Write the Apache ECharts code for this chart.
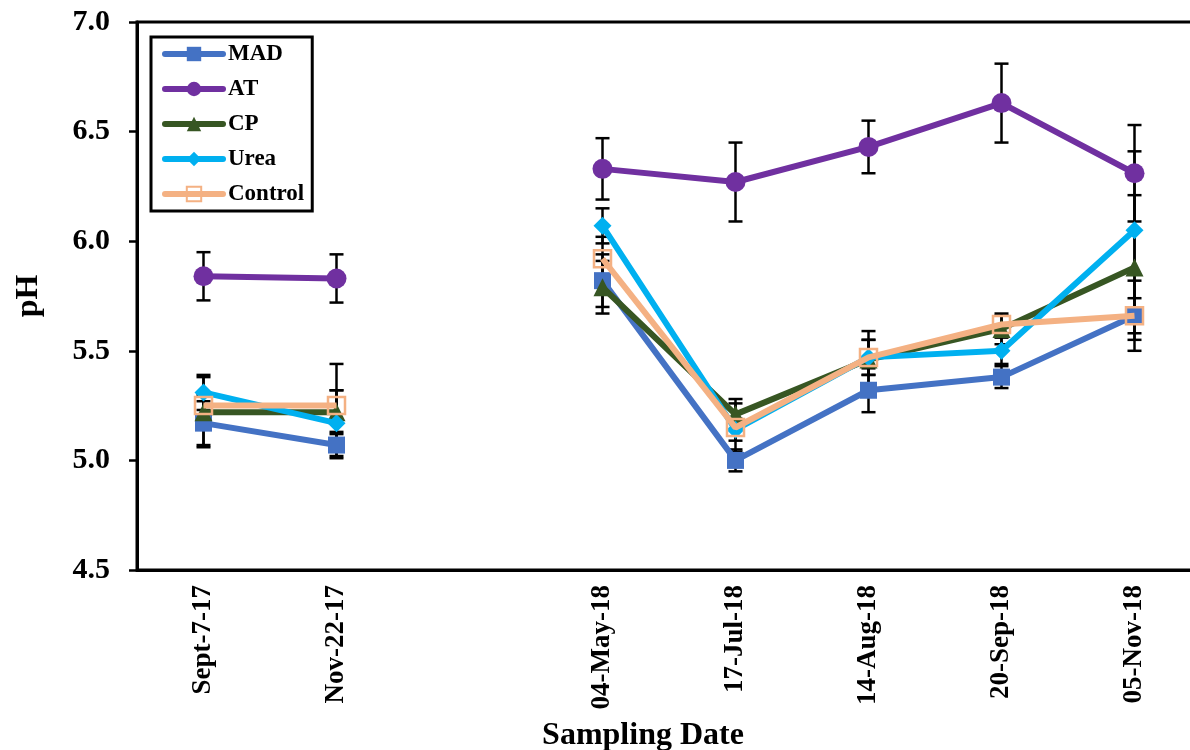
<!DOCTYPE html>
<html>
<head>
<meta charset="utf-8">
<script src="https://cdn.jsdelivr.net/npm/echarts@6/dist/echarts.min.js"></script>
<style>
  html, body { margin: 0; padding: 0; background: #fff; }
  #chart { width: 1190px; height: 750px; }
</style>
</head>
<body>
<div id="chart"></div>
<script>
// Sampling dates; the empty slot keeps the gap between the 2017 and 2018 seasons
const categories = ['Sept-7-17', 'Nov-22-17', '', '04-May-18', '17-Jul-18', '14-Aug-18', '20-Sep-18', '05-Nov-18'];

// Mean soil pH per treatment
const madValues     = [5.17, 5.07, null, 5.82, 5.00, 5.32, 5.38, 5.66];
const atValues      = [5.84, 5.83, null, 6.33, 6.27, 6.43, 6.63, 6.31];
const cpValues      = [5.22, 5.22, null, 5.79, 5.21, 5.46, 5.60, 5.88];
const ureaValues    = [5.31, 5.17, null, 6.07, 5.14, 5.47, 5.50, 6.05];
const controlValues = [5.25, 5.25, null, 5.92, 5.15, 5.47, 5.62, 5.66];

// Standard errors (half-length of each error bar)
const madErr     = [0.10, 0.06, null, 0.12, 0.05, 0.10, 0.05, 0.08];
const atErr      = [0.11, 0.11, null, 0.14, 0.18, 0.12, 0.18, 0.22];
const cpErr      = [0.16, 0.10, null, 0.12, 0.07, 0.13, 0.07, 0.33];
const ureaErr    = [0.08, 0.15, null, 0.08, 0.05, 0.08, 0.06, 0.36];
const controlErr = [0.05, 0.19, null, 0.10, 0.11, 0.08, 0.04, 0.16];

// Y axis ticks
const yTicks = ['4.5', '5.0', '5.5', '6.0', '6.5', '7.0'];

const FONT = 'Liberation Serif, Times New Roman, serif';

const treatments = [
  { name: 'MAD',     values: madValues,     err: madErr,     color: '#4472C4', symbol: 'rect',     size: 17 },
  { name: 'AT',      values: atValues,      err: atErr,      color: '#7030A0', symbol: 'circle',   size: 20 },
  { name: 'CP',      values: cpValues,      err: cpErr,      color: '#375623', symbol: 'triangle', size: 18 },
  { name: 'Urea',    values: ureaValues,    err: ureaErr,    color: '#00B0F0', symbol: 'diamond',  size: 18 },
  { name: 'Control', values: controlValues, err: controlErr, color: '#F4B183', symbol: 'rect',     size: 17, hollow: true }
];

// Error bar rows: [category index, low, high]
const errRows = [];
treatments.forEach(t => {
  t.values.forEach((v, i) => {
    if (v !== null && t.err[i] !== null) errRows.push([i, v - t.err[i], v + t.err[i]]);
  });
});

function renderErrorBar(params, api) {
  const idx = api.value(0);
  const top = api.coord([idx, api.value(2)]);
  const bot = api.coord([idx, api.value(1)]);
  const half = 7;
  const style = { stroke: '#000', lineWidth: 2.5 };
  return {
    type: 'group',
    children: [
      { type: 'line', shape: { x1: top[0], y1: top[1], x2: bot[0], y2: bot[1] }, style },
      { type: 'line', shape: { x1: top[0] - half, y1: top[1], x2: top[0] + half, y2: top[1] }, style },
      { type: 'line', shape: { x1: bot[0] - half, y1: bot[1], x2: bot[0] + half, y2: bot[1] }, style }
    ]
  };
}

const lineSeries = treatments.map((t, k) => ({
  name: t.name,
  type: 'line',
  data: t.values,
  connectNulls: false,
  symbol: t.symbol,
  symbolSize: t.size,
  z: 3 + k,
  lineStyle: { color: t.color, width: 6 },
  itemStyle: t.hollow
    ? { color: 'rgba(255,255,255,0)', borderColor: t.color, borderWidth: 2.5 }
    : { color: t.color },
  emphasis: { disabled: true }
}));

const chart = echarts.init(document.getElementById('chart'), null, { renderer: 'canvas' });

chart.setOption({
  animation: false,
  backgroundColor: '#fff',
  grid: {
    left: 137, right: -11, top: 22, bottom: 180,
    outerBoundsMode: 'none',
    containLabel: false,
    show: true, borderColor: '#000', borderWidth: 3, backgroundColor: 'transparent'
  },
  legend: {
    data: treatments.map(t => ({ name: t.name, lineStyle: { width: 6, cap: 'round' } })),
    orient: 'vertical',
    left: 151, top: 37,
    padding: [5, 8, 5, 11],
    borderColor: '#000', borderWidth: 3,
    itemWidth: 58, itemHeight: 18, itemGap: 11,
    lineStyle: { width: 6, cap: 'round' },
    textStyle: { fontFamily: FONT, fontWeight: 'bold', fontSize: 23, color: '#000', lineHeight: 24 }
  },
  xAxis: {
    type: 'category',
    data: categories,
    boundaryGap: true,
    name: 'Sampling Date',
    nameLocation: 'middle',
    nameGap: 150,
    nameTextStyle: { fontFamily: FONT, fontWeight: 'bold', fontSize: 32, color: '#000', padding: [0, 52, 0, 0] },
    axisLine: { lineStyle: { color: '#000', width: 3 } },
    axisTick: { show: false },
    axisLabel: { interval: 0, rotate: 90, margin: 15, fontFamily: FONT, fontWeight: 'bold', fontSize: 27, color: '#000' },
    splitLine: { show: false }
  },
  yAxis: {
    type: 'value',
    min: 4.5, max: 7.0, interval: 0.5,
    name: 'pH',
    nameLocation: 'middle',
    nameGap: 92,
    nameTextStyle: { fontFamily: FONT, fontWeight: 'bold', fontSize: 32, color: '#000' },
    axisLine: { show: true, lineStyle: { color: '#000', width: 3 } },
    axisTick: { show: true, length: 8, lineStyle: { color: '#000', width: 2.5 } },
    axisLabel: {
      margin: 27,
      fontFamily: FONT, fontWeight: 'bold', fontSize: 30, color: '#000',
      formatter: v => yTicks[Math.round((v - 4.5) / 0.5)]
    },
    splitLine: { show: false }
  },
  series: [
    {
      name: 'errors',
      type: 'custom',
      renderItem: renderErrorBar,
      data: errRows,
      encode: { x: 0, y: [1, 2] },
      z: 2,
      silent: true
    }
  ].concat(lineSeries)
});
</script>
</body>
</html>
